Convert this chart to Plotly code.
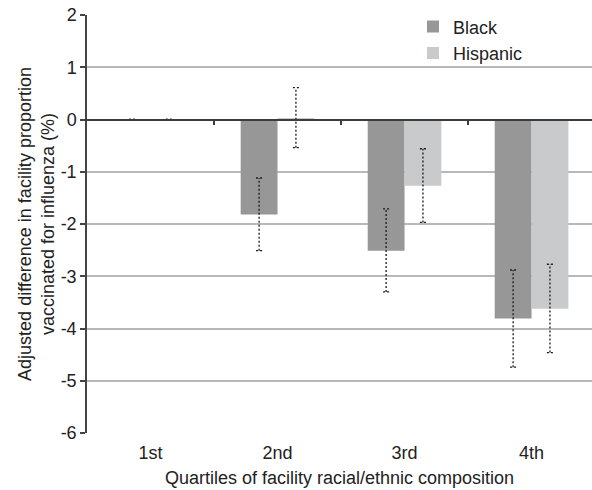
import plotly.graph_objects as go

# ---- data ----
quartiles = ["1st", "2nd", "3rd", "4th"]
black = [0.0, -1.82, -2.51, -3.81]
black_hi = [0.0, -1.12, -1.71, -2.88]
black_lo = [0.0, -2.51, -3.30, -4.74]
hispanic = [0.0, 0.03, -1.27, -3.62]
hispanic_hi = [0.0, 0.61, -0.56, -2.77]
hispanic_lo = [0.0, -0.54, -1.97, -4.46]
y_ticks = [2, 1, 0, -1, -2, -3, -4, -5, -6]
y_tick_text = ["2", "1", "0", "-1", "-2", "-3", "-4", "-5", "-6"]

# ---- styling / geometry ----
FONT = "Liberation Sans, Arial, Helvetica, sans-serif"
TXT = "#222222"
BW = 0.29          # bar width in category units
OFF = BW / 2       # bar offset from category centre
CAP = 0.024        # half-width of error caps
XR = [-0.5, 3.476]

xb = [i - OFF for i in range(len(quartiles))]
xh = [i + OFF for i in range(len(quartiles))]


def err_path(xs, lo, hi):
    px, py = [], []
    for x, l, h in zip(xs, lo, hi):
        px += [x, x, None, x - CAP, x + CAP, None, x - CAP, x + CAP, None]
        py += [l, h, None, h, h, None, l, l, None]
    return px, py


fig = go.Figure()
fig.add_trace(go.Bar(x=xb, y=black, width=BW, name="Black",
                     marker=dict(color="#979798", line=dict(width=0))))
fig.add_trace(go.Bar(x=xh, y=hispanic, width=BW, name="Hispanic",
                     marker=dict(color="#c9cacb", line=dict(width=0))))

bx, by = err_path(xb, black_lo, black_hi)
hx, hy = err_path(xh, hispanic_lo, hispanic_hi)
fig.add_trace(go.Scatter(x=bx + hx, y=by + hy, mode="lines", xaxis="x2", yaxis="y",
                         line=dict(color="#1a1a1a", width=1.3, dash="2px,2px"),
                         showlegend=False, hoverinfo="skip"))

fig.update_layout(
    width=592, height=490,
    margin=dict(l=87, r=0, t=15, b=57),
    paper_bgcolor="white", plot_bgcolor="white",
    barmode="overlay",
    font=dict(family=FONT, size=18, color=TXT),
    showlegend=True,
    legend=dict(x=0.6455, y=1.016, xanchor="left", yanchor="top",
                bgcolor="rgba(0,0,0,0)", font=dict(size=18, color=TXT),
                tracegroupgap=0),
    xaxis=dict(range=XR, tickvals=list(range(len(quartiles))), ticktext=quartiles,
               showgrid=False, zeroline=False, showline=False, ticks="",
               ticklabelstandoff=7, automargin=False,
               tickfont=dict(size=18, color=TXT),
               title=dict(text="Quartiles of facility racial/ethnic composition",
                          font=dict(size=18, color=TXT), standoff=9)),
    xaxis2=dict(range=XR, overlaying="x", anchor="free", position=0.75, side="bottom",
                showgrid=False, zeroline=False, showline=True, linecolor="#3c3c3c",
                linewidth=1.5, ticks="outside", tickvals=[0.5, 1.5, 2.5], ticklen=5,
                tickcolor="#3c3c3c", tickwidth=1.5, showticklabels=False),
    yaxis=dict(range=[-6, 2], tickvals=y_ticks, ticktext=y_tick_text,
               showgrid=True, gridcolor="#b8b8b8",
               gridwidth=1.5, zeroline=False, showline=True, linecolor="#444444",
               linewidth=1.5, ticks="outside", ticklen=5, tickcolor="#444444",
               tickwidth=1.5, automargin=False,
               tickfont=dict(size=18, color=TXT),
               title=dict(text="Adjusted difference in facility proportion<br>vaccinated for influenza (%)",
                          font=dict(size=18, color=TXT), standoff=1)),
)

fig.write_html("out.html", config={"displayModeBar": False},
               post_script="document.body.style.margin='0';")
